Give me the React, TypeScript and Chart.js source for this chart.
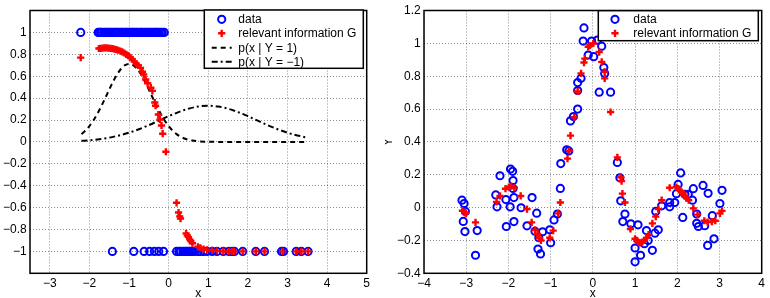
import React, { useEffect, useRef } from "react";
import { Chart, registerables } from "chart.js";

Chart.register(...registerables);

const FONT_FAMILY = "'Liberation Sans', Arial, Helvetica, sans-serif";
const BLUE = "#0000ff";
const RED = "#ff0000";
const GRID = "rgba(0,0,0,0.45)";

// ---------------- left panel: 1-D classification ----------------
const classPosX = [
  -2.22, -1.78, -1.75, -1.71, -1.69, -1.64, -1.6, -1.57, -1.52, -1.49, -1.45, -1.42, -1.37, -1.33,
  -1.3, -1.26, -1.21, -1.18, -1.15, -1.1, -1.07, -1.03, -0.99, -0.95, -0.91, -0.88, -0.84, -0.8,
  -0.77, -0.72, -0.69, -0.65, -0.6, -0.57, -0.53, -0.49, -0.45, -0.41, -0.36, -0.33, -0.29, -0.25,
  -0.2, -0.16, -0.11,
];
const classNegX = [
  -1.42, -0.88, -0.62, -0.48, -0.36, -0.25, -0.13, 0.2, 0.26, 0.3, 0.36, 0.4, 0.44, 0.48, 0.52,
  0.55, 0.6, 0.66, 0.74, 0.8, 0.88, 0.97, 1.1, 1.22, 1.38, 1.52, 1.6, 1.66, 1.87, 2.2, 2.42, 2.85,
  2.9, 3.22, 3.35, 3.52,
];
const classPosLabel = 1;
const classNegLabel = -1;

const gLeftX = [
  -2.22, -1.76, -1.72, -1.67, -1.62, -1.57, -1.52, -1.47, -1.42, -1.37, -1.32, -1.27, -1.22, -1.17,
  -1.12, -1.07, -1.02, -0.97, -0.92, -0.87, -0.82, -0.77, -0.71, -0.66, -0.63, -0.58, -0.53, -0.45,
  -0.41, -0.35, -0.33, -0.26, -0.22, -0.18, -0.15, -0.07, 0.2, 0.25, 0.28, 0.3, 0.44, 0.47, 0.5,
  0.53, 0.56, 0.6, 0.74, 0.8, 0.88, 0.97, 1.1, 1.22, 1.38, 1.52, 1.6, 1.66, 1.87, 2.2, 2.42, 2.88,
  3.22, 3.35, 3.52,
];
const gLeftVal = [
  0.77, 0.853, 0.855, 0.857, 0.858, 0.858, 0.857, 0.855, 0.852, 0.848, 0.843, 0.837, 0.83, 0.822,
  0.812, 0.8, 0.787, 0.772, 0.755, 0.735, 0.712, 0.7, 0.676, 0.64, 0.615, 0.57, 0.535, 0.495,
  0.466, 0.36, 0.33, 0.25, 0.205, 0.15, 0.075, -0.09, -0.556, -0.645, -0.68, -0.7, -0.835, -0.855,
  -0.87, -0.89, -0.905, -0.925, -0.958, -0.968, -0.978, -0.985, -0.99, -0.995, -0.998, -1, -1, -1,
  -1, -1, -1, -1, -1, -1, -1,
];

// class-conditional densities
const densityPosX = [
  -2.2, -2.1, -2.0, -1.9, -1.8, -1.7, -1.6, -1.5, -1.4, -1.3, -1.2, -1.1, -1.0, -0.9, -0.8, -0.7,
  -0.6, -0.5, -0.4, -0.3, -0.2, -0.1, 0, 0.1, 0.2, 0.3, 0.4, 0.5, 0.6, 0.7, 0.8, 0.9, 1.0, 1.5, 2.0,
  2.5, 3.0, 3.5,
];
const densityPosVal = [
  0.071, 0.103, 0.144, 0.196, 0.257, 0.326, 0.401, 0.478, 0.552, 0.617, 0.668, 0.701, 0.712, 0.701,
  0.668, 0.617, 0.552, 0.478, 0.401, 0.326, 0.257, 0.196, 0.144, 0.103, 0.071, 0.048, 0.031, 0.02,
  0.012, 0.007, 0.004, 0.002, 0.001, 0, 0, 0, 0, 0,
];
const densityNegX = [
  -2.2, -2.0, -1.75, -1.5, -1.25, -1.0, -0.75, -0.5, -0.25, 0, 0.25, 0.5, 0.75, 1.0, 1.25, 1.5,
  1.75, 2.0, 2.25, 2.5, 2.75, 3.0, 3.25, 3.5,
];
const densityNegVal = [
  0.01, 0.015, 0.025, 0.039, 0.059, 0.084, 0.116, 0.153, 0.194, 0.235, 0.272, 0.303, 0.323, 0.33,
  0.323, 0.303, 0.272, 0.235, 0.194, 0.153, 0.116, 0.084, 0.059, 0.039,
];

const leftXTicks = [-3, -2, -1, 0, 1, 2, 3, 4, 5];
const leftYTicks = [-1, -0.8, -0.6, -0.4, -0.2, 0, 0.2, 0.4, 0.6, 0.8, 1];

// ---------------- right panel: regression ----------------
const sampleX = [
  -3.1, -3.05, -3.02, -3.07, -3.03, -2.74, -2.78, -2.3, -2.27, -2.2, -2.06, -1.96, -1.95, -1.9,
  -1.89, -1.89, -1.87, -1.87, -2.05, -1.7, -1.44, -1.56, -1.33, -1.37, -1.19, -1.28, -1.3, -1.24,
  -1.02, -1.0, -0.92, -0.84, -0.77, -0.76, -0.57, -0.62, -0.21, -0.23, -0.03, 0.11, 0.21, -0.11,
  0.02, 0.26, 0.28, 0.15, 0.42, -0.28, -0.36, -0.36, -0.36, -0.46, -0.53, 0.58, 0.64, 0.66, 0.76,
  0.71, 0.9, 1.07, 1.0, 1.0, 1.13, 1.27, 1.22, 1.41, 1.47, 1.55, 1.49, 1.63, 1.82, 1.82, 1.94,
  2.02, 2.08, 1.98, 2.13, 2.18, 2.26, 2.38, 2.36, 2.46, 2.46, 2.5, 2.61, 2.65, 2.73, 2.72, 2.83,
  2.87, 3.01, 3.06, 1.31,
];
const sampleY = [
  0.045, 0.025, -0.023, -0.084, -0.146, -0.14, -0.29, 0.077, 0.005, 0.194, 0.049, 0.005, 0.235,
  0.221, 0.165, 0.117, 0.061, -0.085, -0.115, -0.001, 0.061, -0.111, -0.034, -0.144, -0.147,
  -0.183, -0.252, -0.282, -0.135, -0.214, -0.075, -0.039, 0.117, 0.268, 0.345, 0.352, 1.094,
  1.014, 1.014, 1.02, 0.983, 0.929, 0.919, 0.853, 0.817, 0.703, 0.703, 0.787, 0.761, 0.713, 0.6,
  0.554, 0.528, 0.275, 0.181, 0.041, -0.039, -0.085, -0.099, -0.105, -0.246, -0.33, -0.29, -0.14,
  -0.22, -0.26, -0.156, -0.135, -0.023, 0.011, 0.031, 0.005, 0.031, 0.141, 0.211, 0.085, -0.06,
  0.081, 0.081, 0.115, 0.045, -0.039, -0.096, -0.115, 0.135, -0.11, 0.087, -0.23, -0.049, -0.19,
  0.025, 0.105, -0.2,
];
const gRightX = [
  -3.09, -3.03, -3.01, -2.78, -2.28, -2.2, -2.07, -1.99, -1.93, -1.86, -1.71, -1.56, -1.45, -1.37,
  -1.31, -1.27, -1.23, -1.02, -0.94, -0.82, -0.77, -0.6, -0.56, -0.53, -0.44, -0.36, -0.28, -0.21,
  -0.19, -0.11, -0.07, 0.01, 0.15, 0.21, 0.28, 0.28, 0.42, 0.58, 0.66, 0.68, 0.7, 0.76, 0.89, 1.0,
  1.04, 1.07, 1.12, 1.17, 1.22, 1.27, 1.32, 1.41, 1.49, 1.55, 1.63, 1.82, 1.98, 2.02, 2.06, 2.1,
  2.14, 2.18, 2.22, 2.27, 2.38, 2.48, 2.64, 2.72, 2.82, 2.9, 3.01, 3.06,
];
const gRightY = [
  -0.019, -0.029, -0.035, -0.09, 0.035, 0.071, 0.115, 0.125, 0.131, 0.121, 0.071, -0.009, -0.09,
  -0.135, -0.16, -0.184, -0.2, -0.184, -0.14, -0.035, 0.031, 0.298, 0.346, 0.438, 0.55, 0.707,
  0.817, 0.883, 0.907, 0.979, 0.987, 0.999, 0.947, 0.887, 0.827, 0.787, 0.582, 0.306, 0.185,
  0.161, 0.085, 0.031, -0.13, -0.19, -0.2, -0.21, -0.215, -0.21, -0.2, -0.185, -0.165, -0.096,
  -0.055, -0.009, 0.045, 0.121, 0.125, 0.115, 0.105, 0.095, 0.085, 0.07, 0.058, 0.045, -0.005,
  -0.043, -0.08, -0.088, -0.085, -0.08, -0.035, -0.02,
];

const rightXTicks = [-4, -3, -2, -1, 0, 1, 2, 3, 4];
const rightYTicks = [-0.4, -0.2, 0, 0.2, 0.4, 0.6, 0.8, 1, 1.2];

// ---------------- helpers ----------------
const zip = (xs: number[], ys: number[]) => xs.map((x, i) => ({ x, y: ys[i] }));
const fmt = (v: number) => String(Math.round(v * 1000) / 1000).replace("-", "\u2212");

const MARK_R = 3.6;
const CIRCLE_W = 2;
const PLUS_R = 3.6;
const PLUS_W = 2.4;

type AxisOpts = {
  min: number;
  max: number;
  ticks: number[];
  size: number;
  horizontal: boolean;
  pad: number;
  title?: string;
};

function makeAxis(o: AxisOpts) {
  return {
    type: "linear",
    position: o.horizontal ? "bottom" : "left",
    min: o.min,
    max: o.max,
    afterBuildTicks: (s: any) => {
      s.ticks = o.ticks.map((v) => ({ value: v }));
    },
    afterFit: (s: any) => {
      if (o.horizontal) s.height = o.size;
      else s.width = o.size;
    },
    grid: { color: GRID, lineWidth: 1, drawTicks: false },
    border: { display: false, dash: [1, 2] },
    ticks: {
      autoSkip: false,
      maxRotation: 0,
      padding: o.pad,
      color: "#000",
      font: { family: FONT_FAMILY, size: 12 },
      callback: (v: any) => fmt(Number(v)),
    },
    title: o.title
      ? {
          display: true,
          text: o.title,
          color: "#000",
          padding: 0,
          font: { family: FONT_FAMILY, size: 12, lineHeight: o.horizontal ? 0.8 : 0.6 },
        }
      : { display: false },
  };
}

type LegendItem = { label: string; kind: "circle" | "plus" | "dash" | "dashdot" };
type LegendOpts = {
  box: [number, number, number, number];
  markerX: number;
  textX: number;
  rows: number[];
  items: LegendItem[];
};

const framePlugin = {
  id: "frame",
  afterDatasetsDraw(chart: any) {
    const { ctx, chartArea: a } = chart;
    ctx.save();
    ctx.strokeStyle = "#000";
    ctx.lineWidth = 1.5;
    ctx.strokeRect(a.left, a.top, a.right - a.left, a.bottom - a.top);
    ctx.restore();
  },
};

function drawCircle(ctx: CanvasRenderingContext2D, x: number, y: number) {
  ctx.beginPath();
  ctx.arc(x, y, MARK_R, 0, Math.PI * 2);
  ctx.strokeStyle = BLUE;
  ctx.lineWidth = CIRCLE_W;
  ctx.stroke();
}

function drawPlus(ctx: CanvasRenderingContext2D, x: number, y: number) {
  ctx.beginPath();
  ctx.moveTo(x - PLUS_R, y);
  ctx.lineTo(x + PLUS_R, y);
  ctx.moveTo(x, y - PLUS_R);
  ctx.lineTo(x, y + PLUS_R);
  ctx.strokeStyle = RED;
  ctx.lineWidth = PLUS_W;
  ctx.stroke();
}

const legendPlugin = {
  id: "boxLegend",
  afterDraw(chart: any, _args: any, opts: LegendOpts) {
    if (!opts || !opts.items) return;
    const ctx: CanvasRenderingContext2D = chart.ctx;
    const [x0, y0, x1, y1] = opts.box;
    ctx.save();
    ctx.fillStyle = "#fff";
    ctx.fillRect(x0, y0, x1 - x0, y1 - y0);
    ctx.strokeStyle = "#000";
    ctx.lineWidth = 1.5;
    ctx.strokeRect(x0, y0, x1 - x0, y1 - y0);
    opts.items.forEach((it, i) => {
      const y = opts.rows[i];
      const cx = opts.markerX;
      if (it.kind === "circle") drawCircle(ctx, cx, y);
      else if (it.kind === "plus") drawPlus(ctx, cx, y);
      else {
        ctx.beginPath();
        ctx.setLineDash(it.kind === "dash" ? [5, 4] : [6, 3, 2, 3]);
        ctx.moveTo(cx - 10, y);
        ctx.lineTo(cx + 10, y);
        ctx.strokeStyle = "#000";
        ctx.lineWidth = 2;
        ctx.stroke();
        ctx.setLineDash([]);
      }
      ctx.fillStyle = "#000";
      ctx.font = `12px ${FONT_FAMILY}`;
      ctx.textBaseline = "middle";
      ctx.textAlign = "left";
      ctx.fillText(it.label, opts.textX, y + 0.5);
    });
    ctx.restore();
  },
};

const circleStyle = {
  pointStyle: "circle",
  pointRadius: MARK_R,
  pointBorderWidth: CIRCLE_W,
  pointBorderColor: BLUE,
  pointBackgroundColor: "rgba(0,0,0,0)",
  showLine: false,
  order: 2,
};
const plusStyle = {
  pointStyle: "cross",
  pointRadius: PLUS_R,
  pointBorderWidth: PLUS_W,
  pointBorderColor: RED,
  pointBackgroundColor: RED,
  showLine: false,
  order: 1,
};
const curveStyle = (dash: number[]) => ({
  showLine: true,
  borderColor: "#000",
  borderWidth: 2,
  borderDash: dash,
  pointRadius: 0,
  cubicInterpolationMode: "monotone",
  order: 3,
});

function leftConfig(): any {
  return {
    type: "scatter",
    data: {
      datasets: [
        {
          label: "data",
          data: [
            ...classPosX.map((x) => ({ x, y: classPosLabel })),
            ...classNegX.map((x) => ({ x, y: classNegLabel })),
          ],
          ...circleStyle,
        },
        { label: "relevant information G", data: zip(gLeftX, gLeftVal), ...plusStyle },
        { label: "p(x | Y = 1)", data: zip(densityPosX, densityPosVal), ...curveStyle([5, 4]) },
        { label: "p(x | Y = \u22121)", data: zip(densityNegX, densityNegVal), ...curveStyle([6, 3, 2, 3]) },
      ],
    },
    options: {
      responsive: false,
      animation: false,
      events: [],
      layout: { padding: { left: 0, right: 18.3, top: 6.5, bottom: 0 } },
      scales: {
        x: makeAxis({ min: -3.5, max: 5, ticks: leftXTicks, size: 24.7, horizontal: true, pad: 2.8, title: "x" }),
        y: makeAxis({ min: -1.2, max: 1.2, ticks: leftYTicks, size: 30, horizontal: false, pad: 3.3 }),
      },
      plugins: {
        legend: { display: false },
        tooltip: { enabled: false },
        boxLegend: {
          box: [204.3, 10, 363.3, 68.3],
          markerX: 221.7,
          textX: 238.3,
          rows: [19.3, 33.3, 47.7, 61.7],
          items: [
            { label: "data", kind: "circle" },
            { label: "relevant information G", kind: "plus" },
            { label: "p(x | Y = 1)", kind: "dash" },
            { label: "p(x | Y = \u22121)", kind: "dashdot" },
          ],
        },
      },
    },
    plugins: [framePlugin, legendPlugin],
  };
}

function rightConfig(): any {
  return {
    type: "scatter",
    data: {
      datasets: [
        { label: "data", data: zip(sampleX, sampleY), ...circleStyle },
        { label: "relevant information G", data: zip(gRightX, gRightY), ...plusStyle },
      ],
    },
    options: {
      responsive: false,
      animation: false,
      events: [],
      layout: { padding: { left: 0, right: 8.3, top: 7.3, bottom: 0 } },
      scales: {
        x: makeAxis({ min: -4, max: 4, ticks: rightXTicks, size: 24.7, horizontal: true, pad: 2.8, title: "x" }),
        y: makeAxis({ min: -0.4, max: 1.2, ticks: rightYTicks, size: 39, horizontal: false, pad: 3.3, title: "Y" }),
      },
      plugins: {
        legend: { display: false },
        tooltip: { enabled: false },
        boxLegend: {
          box: [213.3, 10.7, 373.3, 40.7],
          markerX: 230,
          textX: 248.3,
          rows: [19.3, 33.3],
          items: [
            { label: "data", kind: "circle" },
            { label: "relevant information G", kind: "plus" },
          ],
        },
      },
    },
    plugins: [framePlugin, legendPlugin],
  };
}

function Panel({ build }: { build: () => any }) {
  const ref = useRef<HTMLCanvasElement | null>(null);
  useEffect(() => {
    if (!ref.current) return;
    const chart = new Chart(ref.current, build());
    return () => chart.destroy();
  }, [build]);
  return <canvas ref={ref} width={385} height={298} style={{ display: "block", width: 385, height: 298 }} />;
}

export default function App() {
  return (
    <div
      style={{
        position: "absolute",
        left: 0,
        top: 0,
        width: 770,
        height: 298,
        display: "flex",
        background: "#fff",
      }}
    >
      <Panel build={leftConfig} />
      <Panel build={rightConfig} />
    </div>
  );
}
